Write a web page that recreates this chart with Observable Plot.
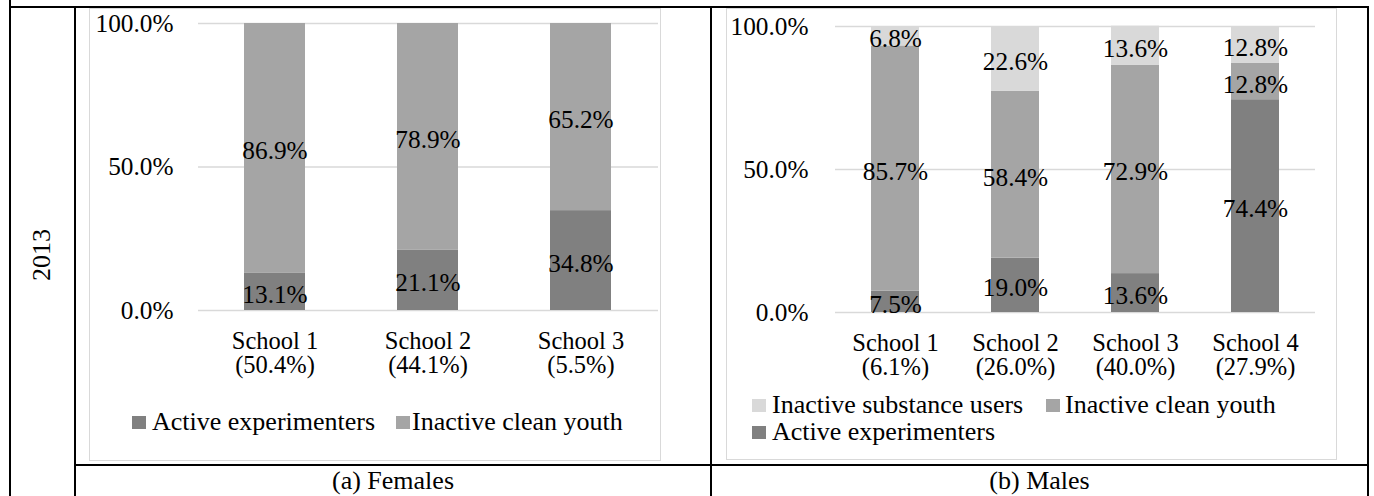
<!DOCTYPE html>
<html><head><meta charset="utf-8">
<script src="https://cdn.jsdelivr.net/npm/d3@7"></script>
<script src="https://cdn.jsdelivr.net/npm/@observablehq/plot@0.6"></script>
<style>
body{margin:0;background:#fff;font-family:"Liberation Serif","Times New Roman",serif;}
#page{position:relative;width:1374px;height:496px;overflow:hidden;background:#fff;}
.ln{position:absolute;background:#000;}
.box{position:absolute;border:1.5px solid #d9d9d9;box-sizing:border-box;}
.t{position:absolute;font-size:26px;line-height:26px;white-space:nowrap;color:#000;}
.c{transform:translate(-50%,-50%);}
.sq{position:absolute;width:14px;height:13px;}
.chart{position:absolute;}
</style></head>
<body><div id="page"></div>
<script>
// ---- data ----
const femaleSchools = ["School 1\n(50.4%)", "School 2\n(44.1%)", "School 3\n(5.5%)"];
const femaleActive = [13.1, 21.1, 34.8];
const femaleClean = [86.9, 78.9, 65.2];

const maleSchools = ["School 1\n(6.1%)", "School 2\n(26.0%)", "School 3\n(40.0%)", "School 4\n(27.9%)"];
const maleActive = [7.5, 19.0, 13.6, 74.4];
const maleClean = [85.7, 58.4, 72.9, 12.8];
const maleSubstance = [6.8, 22.6, 13.6, 12.8];

const groups = ["Active experimenters", "Inactive clean youth", "Inactive substance users"];
const groupColors = ["#808080", "#a5a5a5", "#d9d9d9"];
const yTicks = [0, 50, 100];

const rowLabel = "2013";
const captions = ["(a) Females", "(b) Males"];

// ---- helpers ----
const page = document.getElementById("page");
function el(cls, style, text) {
  const d = document.createElement("div");
  d.className = cls;
  Object.assign(d.style, style);
  if (text != null) d.textContent = text;
  page.appendChild(d);
  return d;
}
const pct = d => d.toFixed(1) + "%";

function chart(schools, series, o) {
  const rows = [];
  series.forEach(([g, vals]) => vals.forEach((v, i) => rows.push({school: schools[i], group: g, value: v})));
  return Plot.plot({
    width: o.width, height: o.height,
    marginLeft: o.ml, marginRight: o.mr, marginTop: o.mt, marginBottom: o.mb,
    style: {fontFamily: "'Liberation Serif', 'Times New Roman', serif", fontSize: "26px", color: "#000", background: "transparent", overflow: "visible"},
    x: {domain: schools, paddingInner: 0.6, paddingOuter: 0.3, axis: null},
    y: {domain: [0, 100], axis: null},
    color: {domain: groups, range: groupColors},
    marks: [
      Plot.gridY(yTicks, {stroke: "#d9d9d9", strokeOpacity: 1, strokeWidth: 1.5}),
      Plot.barY(rows, Plot.stackY({x: "school", y: "value", fill: "group"})),
      Plot.text(rows, Plot.stackY({x: "school", y: "value", text: d => pct(d.value), fontSize: 25.3, dy: 3, fill: "#000"})),
      Plot.axisY(yTicks, {tickFormat: pct, tickSize: 0, tickPadding: o.yPad, fontSize: 25.3, label: null, fill: "#000"}),
      Plot.axisX({tickSize: 0, tickPadding: 21, fontSize: 24.5, lineHeight: 1, label: null, fill: "#000"})
    ]
  });
}

// ---- table lines ----
el("ln", {left: "9px", top: "0px", width: "2px", height: "496px"});
el("ln", {left: "9px", top: "6px", width: "1360px", height: "2px"});
el("ln", {left: "74px", top: "7px", width: "2px", height: "489px"});
el("ln", {left: "710px", top: "7px", width: "2px", height: "489px"});
el("ln", {left: "1367px", top: "7px", width: "2px", height: "489px"});
el("ln", {left: "75px", top: "464px", width: "1293px", height: "2px"});

// ---- chart boxes ----
el("box", {left: "89px", top: "8px", width: "572px", height: "453px"});
el("box", {left: "726px", top: "8px", width: "611px", height: "452px"});

// ---- charts ----
const fem = chart(femaleSchools, [[groups[0], femaleActive], [groups[1], femaleClean]],
  {width: 571, height: 380, ml: 109, mr: 2, mt: 15, mb: 78, yPad: 25});
fem.classList.add("chart"); fem.style.left = "89px"; fem.style.top = "8px";
page.appendChild(fem);

const mal = chart(maleSchools, [[groups[0], maleActive], [groups[1], maleClean], [groups[2], maleSubstance]],
  {width: 610, height: 380, ml: 109, mr: 21, mt: 18, mb: 76, yPad: 27});
mal.classList.add("chart"); mal.style.left = "726px"; mal.style.top = "8px";
page.appendChild(mal);

// ---- legends ----
function legendItem(x, yc, gi, textX) {
  el("sq", {left: x + "px", top: (yc - 6.5) + "px", background: groupColors[gi]});
  el("t", {left: textX + "px", top: (yc - 13) + "px"}, groups[gi]);
}
legendItem(132, 422, 0, 152);
legendItem(396, 422, 1, 412);
legendItem(752, 405, 2, 772);
legendItem(1046, 405, 1, 1065);
legendItem(752, 432, 0, 772);

// ---- row label and captions ----
el("t c", {left: "42px", top: "255px", transform: "translate(-50%,-50%) rotate(-90deg)"}, rowLabel);
el("t c", {left: "393px", top: "481px"}, captions[0]);
el("t c", {left: "1039.5px", top: "481px"}, captions[1]);
</script>
</body></html>
